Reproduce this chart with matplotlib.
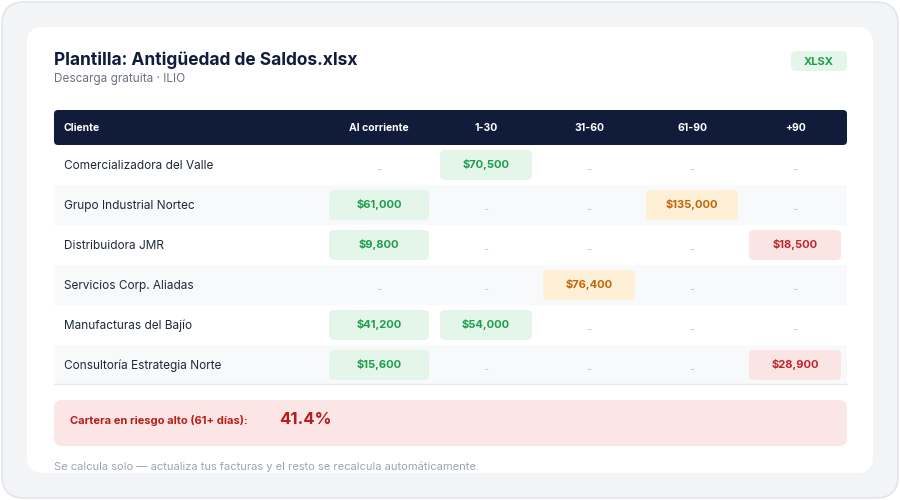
import matplotlib
matplotlib.use("Agg")
import matplotlib.pyplot as plt
from matplotlib.patches import FancyBboxPatch, Rectangle

plt.rcParams['font.family'] = ['Inter', 'DejaVu Sans']

clients = ["Comercializadora del Valle", "Grupo Industrial Nortec", "Distribuidora JMR",
           "Servicios Corp. Aliadas", "Manufacturas del Bajío", "Consultoría Estrategia Norte"]
buckets = ["Al corriente", "1-30", "31-60", "61-90", "+90"]
al_corriente = [None, 61000, 9800, None, 41200, 15600]
d1_30 = [70500, None, None, None, 54000, None]
d31_60 = [None, None, None, 76400, None, None]
d61_90 = [None, 135000, None, None, None, None]
d90 = [None, None, 18500, None, None, 28900]
risk_pct = 41.4

columns = [al_corriente, d1_30, d31_60, d61_90, d90]
col_x = [379, 486, 589, 692, 795]
pill_w = [100, 92, 92, 92, 92]
tones = {
    "green": ("#e4f6ea", "#1f9d4c"),
    "orange": ("#fdf0d6", "#c2650a"),
    "red": ("#fbe4e4", "#c0262d"),
}
col_tone = ["green", "green", "orange", "orange", "red"]
navy = "#111c3a"

fig = plt.figure(figsize=(9, 5), dpi=100)
ax = fig.add_axes([0, 0, 1, 1])
ax.set_xlim(0, 900)
ax.set_ylim(500, 0)
ax.axis("off")
fig.patch.set_facecolor("white")


def rbox(x, y, w, h, fc, r=6, ec="none", lw=0, z=1):
    ax.add_patch(FancyBboxPatch((x + r, y + r), w - 2 * r, h - 2 * r,
                                boxstyle=f"round,pad={r}", fc=fc, ec=ec, lw=lw, zorder=z))


rbox(2, 2, 896, 496, "#f3f4f6", r=22, ec="#dfe2e6", lw=1)
rbox(27, 27, 846, 446, "white", r=16)

ax.text(54, 60, "Plantilla: Antigüedad de Saldos.xlsx", fontsize=12.5, fontweight="bold",
        color=navy, va="center")
ax.text(54, 79, "Descarga gratuita · ILIO", fontsize=8.5, color="#6b7280", va="center")
rbox(791, 51, 56, 20, "#e4f6ea", r=5)
ax.text(819, 62, "XLSX", fontsize=8, fontweight="bold", color="#1f9d4c", ha="center", va="center")

# header
rbox(54, 110, 793, 35, navy, r=4, z=2)
ax.text(64, 128, "Cliente", fontsize=7.5, fontweight="bold", color="white", va="center", zorder=3)
for b, x in zip(buckets, col_x):
    ax.text(x, 128, b, fontsize=7.5, fontweight="bold", color="white", ha="center",
            va="center", zorder=3)

# rows
for i, name in enumerate(clients):
    yc = 165 + 40 * i
    if i % 2 == 1:
        ax.add_patch(Rectangle((54, yc - 20), 793, 40, fc="#f8f9fb", ec="none", zorder=1))
    ax.text(64, yc + 1, name, fontsize=8.5, color="#1f2937", va="center", zorder=3)
    for j, col in enumerate(columns):
        v = col[i]
        x = col_x[j]
        if v is None:
            ax.text(x, yc + 5, "-", fontsize=8, color="#c4c8ce", ha="center", va="center")
        else:
            bg, fg = tones[col_tone[j]]
            w = pill_w[j]
            rbox(x - w / 2, yc - 15, w, 30, bg, r=5, z=2)
            ax.text(x, yc, f"${v:,.0f}", fontsize=8, fontweight="bold", color=fg,
                    ha="center", va="center", zorder=3)
ax.plot([54, 847], [384, 384], color="#e5e7eb", lw=1)

# risk box
rbox(54, 400, 793, 46, "#fce5e5", r=8)
ax.text(70, 421, "Cartera en riesgo alto (61+ días):", fontsize=8, fontweight="bold",
        color="#b91c1c", va="center")
ax.text(279, 420, f"{risk_pct}%", fontsize=12, fontweight="bold", color="#b91c1c", va="center")

ax.text(54, 467, "Se calcula solo — actualiza tus facturas y el resto se recalcula automáticamente.",
        fontsize=8, color="#9ca3af", va="center")

fig.savefig("out.png", dpi=100)
